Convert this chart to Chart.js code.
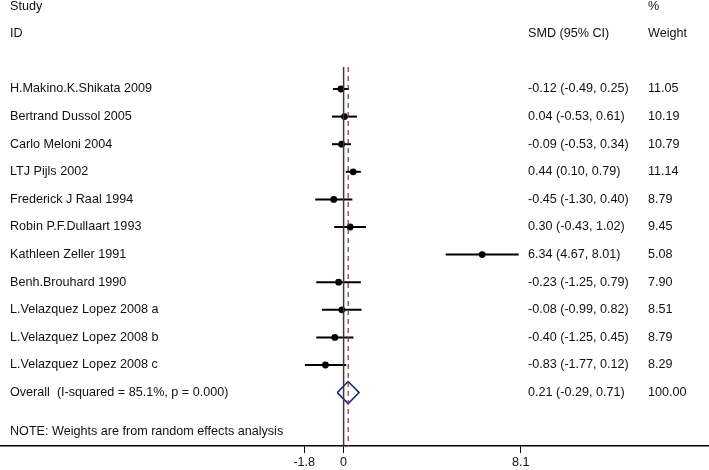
<!DOCTYPE html>
<html>
<head>
<meta charset="utf-8">
<script src="https://cdn.jsdelivr.net/npm/chart.js@4.4.1/dist/chart.umd.min.js"></script>
<style>
  html, body { margin: 0; padding: 0; background: #fff; }
  #wrap { width: 709px; height: 470px; }
</style>
</head>
<body>
<div id="wrap"><canvas id="c" width="709" height="470"></canvas></div>
<script>
// ---- data ----
const studies = [
  "H.Makino.K.Shikata 2009",
  "Bertrand Dussol 2005",
  "Carlo Meloni 2004",
  "LTJ Pijls 2002",
  "Frederick J Raal 1994",
  "Robin P.F.Dullaart 1993",
  "Kathleen Zeller 1991",
  "Benh.Brouhard 1990",
  "L.Velazquez Lopez 2008 a",
  "L.Velazquez Lopez 2008 b",
  "L.Velazquez Lopez 2008 c"
];
const smd   = [-0.12, 0.04, -0.09, 0.44, -0.45, 0.30, 6.34, -0.23, -0.08, -0.40, -0.83];
const lower = [-0.49, -0.53, -0.53, 0.10, -1.30, -0.43, 4.67, -1.25, -0.99, -1.25, -1.77];
const upper = [0.25, 0.61, 0.34, 0.79, 0.40, 1.02, 8.01, 0.79, 0.82, 0.45, 0.12];
const weights = ["11.05", "10.19", "10.79", "11.14", "8.79", "9.45", "5.08", "7.90", "8.51", "8.79", "8.29"];
const overallLabel = "Overall  (I-squared = 85.1%, p = 0.000)";
const overallSmd = 0.21, overallLower = -0.29, overallUpper = 0.71;
const overallWeight = "100.00";
const xTicks = [-1.8, 0, 8.1];
const noteText = "NOTE: Weights are from random effects analysis";

// ---- layout constants ----
const ROW0 = 89, ROWH = 27.6, AXIS_Y = 446, W = 709;
const PX_PER_UNIT = 21.86, ZERO_PX = 343.6;
const FONT = '12.6px "Liberation Sans", Arial, sans-serif';
const nRows = studies.length;
const overallRow = nRows;

const fmt = v => v.toFixed(2);

const datasets = [];
// reference lines
const yTopLine = (67 - ROW0) / ROWH;
const yMax = (AXIS_Y - ROW0) / ROWH;
datasets.push({
  data: [{x: 0, y: yTopLine}, {x: 0, y: yMax}],
  showLine: true, borderColor: '#3a3a3a', borderWidth: 1.5, pointRadius: 0
});
datasets.push({
  data: [{x: overallSmd, y: yTopLine}, {x: overallSmd, y: yMax}],
  showLine: true, borderColor: '#a0283a', borderWidth: 1.2, borderDash: [5, 4], pointRadius: 0
});
// CI lines
for (let i = 0; i < nRows; i++) {
  datasets.push({
    data: [{x: lower[i], y: i}, {x: upper[i], y: i}],
    showLine: true, borderColor: '#000', borderWidth: 2, pointRadius: 0
  });
}
// point estimates
datasets.push({
  data: smd.map((v, i) => ({x: v, y: i})),
  showLine: false, pointRadius: 3.4, pointBackgroundColor: '#000', pointBorderColor: '#000', pointBorderWidth: 0
});
// overall diamond
const dh = 0.4;
datasets.push({
  data: [
    {x: overallLower, y: overallRow},
    {x: overallSmd, y: overallRow - dh},
    {x: overallUpper, y: overallRow},
    {x: overallSmd, y: overallRow + dh},
    {x: overallLower, y: overallRow}
  ],
  showLine: true, borderColor: '#1a2470', borderWidth: 1.5, pointRadius: 0, fill: false, tension: 0
});

const textPlugin = {
  id: 'texts',
  afterDraw(chart) {
    const ctx = chart.ctx;
    const ys = chart.scales.y;
    ctx.save();
    ctx.font = FONT;
    ctx.fillStyle = '#111';
    ctx.textBaseline = 'middle';
    ctx.textAlign = 'left';
    // headers
    ctx.fillText("Study", 10, 7);
    ctx.fillText("ID", 10, 34);
    ctx.fillText("SMD (95% CI)", 528, 34);
    ctx.fillText("%", 648, 7);
    ctx.fillText("Weight", 648, 34);
    for (let i = 0; i < nRows; i++) {
      const y = ys.getPixelForValue(i);
      ctx.fillText(studies[i], 10, y);
      ctx.fillText(`${fmt(smd[i])} (${fmt(lower[i])}, ${fmt(upper[i])})`, 528, y);
      ctx.fillText(weights[i], 648, y);
    }
    const yo = ys.getPixelForValue(overallRow);
    ctx.fillText(overallLabel, 10, yo);
    ctx.fillText(`${fmt(overallSmd)} (${fmt(overallLower)}, ${fmt(overallUpper)})`, 528, yo);
    ctx.fillText(overallWeight, 648, yo);
    ctx.fillText(noteText, 10, ys.getPixelForValue(overallRow + 1.42));
    ctx.restore();
  }
};

new Chart(document.getElementById('c'), {
  type: 'scatter',
  data: { datasets },
  options: {
    responsive: false,
    animation: false,
    devicePixelRatio: 1,
    layout: { padding: 0, autoPadding: false },
    plugins: { legend: { display: false }, tooltip: { enabled: false } },
    scales: {
      x: {
        type: 'linear',
        min: -ZERO_PX / PX_PER_UNIT,
        max: (W - ZERO_PX) / PX_PER_UNIT,
        afterBuildTicks: axis => { axis.ticks = xTicks.map(v => ({value: v})); },
        afterFit: axis => {
          axis.height = 470 - AXIS_Y;
          axis.paddingLeft = 0;
          axis.paddingRight = 0;
        },
        grid: { display: true, drawOnChartArea: false, drawTicks: true, tickLength: 7, color: '#000', lineWidth: 1 },
        border: { display: true, color: '#000', width: 1.5 },
        ticks: {
          autoSkip: false, maxRotation: 0, padding: 2,
          color: '#111',
          font: { family: '"Liberation Sans", Arial, sans-serif', size: 12.6 },
          callback: v => String(v)
        }
      },
      y: {
        type: 'linear',
        display: false,
        reverse: true,
        min: -ROW0 / ROWH,
        max: yMax
      }
    }
  },
  plugins: [textPlugin]
});
</script>
</body>
</html>
